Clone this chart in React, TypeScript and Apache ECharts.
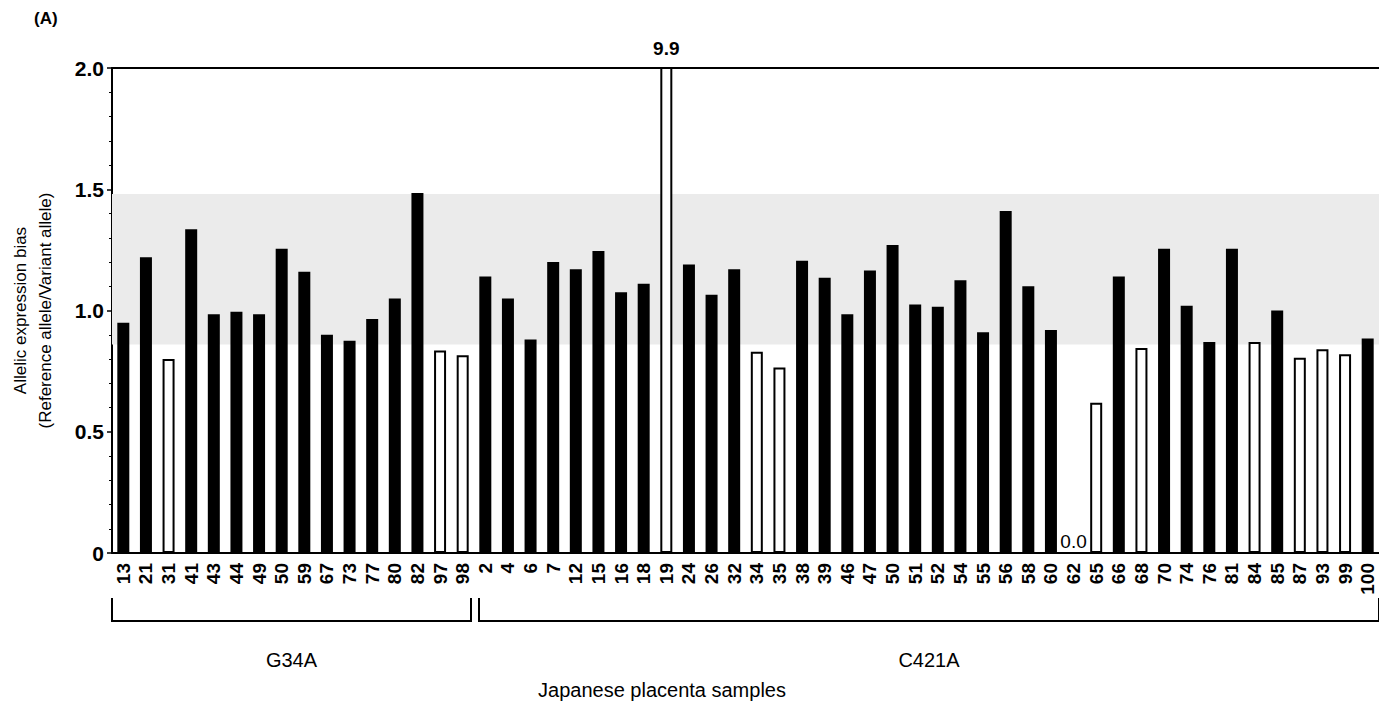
import React, { useEffect, useRef } from "react";
import * as echarts from "echarts";

// ---- Data ----
const g34aSamples = ["13", "21", "31", "41", "43", "44", "49", "50", "59", "67", "73", "77", "80", "82", "97", "98"];
const g34aValues = [0.95, 1.22, 0.8, 1.335, 0.985, 0.995, 0.985, 1.255, 1.16, 0.9, 0.875, 0.965, 1.05, 1.485, 0.835, 0.815];
const g34aOutliers = ["31", "97", "98"];

const c421aSamples = [
  "2", "4", "6", "7", "12", "15", "16", "18", "19", "24", "26", "32", "34", "35", "38", "39", "46", "47", "50", "51",
  "52", "54", "55", "56", "58", "60", "62", "65", "66", "68", "70", "74", "76", "81", "84", "85", "87", "93", "99", "100",
];
const c421aValues = [
  1.14, 1.05, 0.88, 1.2, 1.17, 1.245, 1.075, 1.11, 9.9, 1.19, 1.065, 1.17, 0.83, 0.765, 1.205, 1.135, 0.985, 1.165, 1.27, 1.025,
  1.015, 1.125, 0.91, 1.41, 1.1, 0.92, 0.0, 0.62, 1.14, 0.845, 1.255, 1.02, 0.87, 1.255, 0.87, 1.0, 0.805, 0.84, 0.82, 0.885,
];
const c421aOutliers = ["19", "34", "35", "62", "65", "68", "84", "87", "93", "99"];

const groupNames = ["G34A", "C421A"];
const normalRange = [0.86, 1.48];
const yTicks = [0, 0.5, 1.0, 1.5, 2.0];

const FONT = "'Liberation Sans', Arial, Helvetica, sans-serif";

export default function App() {
  const ref = useRef<HTMLDivElement>(null);

  useEffect(() => {
    if (!ref.current) return;
    const chart = echarts.init(ref.current, undefined, { renderer: "svg" });

    const categories = [...g34aSamples, ...c421aSamples];
    const values = [...g34aValues, ...c421aValues];
    const outlierFlags = [
      ...g34aSamples.map((s) => g34aOutliers.includes(s)),
      ...c421aSamples.map((s) => c421aOutliers.includes(s)),
    ];
    const yMin = yTicks[0];
    const yMax = yTicks[yTicks.length - 1];

    const data = values.map((v, i) => ({
      value: v,
      itemStyle: outlierFlags[i]
        ? { color: "#ffffff", borderColor: "#000000", borderWidth: 2 }
        : { color: "#000000", borderColor: "#000000", borderWidth: 0 },
      label: {
        show: v > yMax || v === 0,
        position: "top",
        distance: v === 0 ? 1 : 9,
        formatter: (p: any) => Number(p.value).toFixed(1),
        fontFamily: FONT,
        fontSize: 19,
        fontWeight: v > yMax ? "bold" : "normal",
        color: "#000",
      },
    }));

    const gridLeft = 110;
    const gridTop = 68;
    const gridBottomPx = 553;

    chart.setOption({
      animation: false,
      backgroundColor: "#ffffff",
      grid: {
        left: gridLeft,
        right: -4,
        top: gridTop,
        height: gridBottomPx - gridTop,
        show: false,
      },
      xAxis: [
        {
          type: "category",
          data: categories,
          axisLine: { show: true, lineStyle: { color: "#000", width: 2 } },
          axisTick: { show: false },
          axisLabel: {
            interval: 0,
            rotate: 90,
            margin: 10,
            fontFamily: FONT,
            fontSize: 19,
            fontWeight: "bold",
            color: "#000",
          },
          splitLine: { show: false },
        },
        {
          type: "category",
          data: categories,
          position: "top",
          axisLine: { show: true, lineStyle: { color: "#000", width: 2 } },
          axisTick: { show: false },
          axisLabel: { show: false },
          splitLine: { show: false },
        },
      ],
      yAxis: {
        type: "value",
        min: yMin,
        max: yMax,
        interval: 0.5,
        name: "Allelic expression bias\n(Reference allele/Variant allele)",
        nameLocation: "middle",
        nameRotate: 90,
        nameGap: 54,
        nameTextStyle: { fontFamily: FONT, fontSize: 17, color: "#000", lineHeight: 25 },
        axisLine: { show: true, lineStyle: { color: "#000", width: 2 } },
        axisTick: { show: true, inside: false, length: 5, lineStyle: { color: "#000", width: 1.5 } },
        minorTick: { show: true, splitNumber: 5, length: 3, lineStyle: { color: "#000", width: 1 } },
        axisLabel: {
          margin: 8,
          fontFamily: FONT,
          fontSize: 21,
          fontWeight: "bold",
          color: "#000",
          formatter: (v: number) => (v === 0 ? "0" : v.toFixed(1)),
        },
        splitLine: { show: false },
      },
      series: [
        {
          type: "bar",
          data,
          barWidth: 12,
          clip: true,
          markArea: {
            silent: true,
            itemStyle: { color: "#ebebeb" },
            data: [[{ yAxis: normalRange[0] }, { yAxis: normalRange[1] }]],
          },
        },
      ],
    });

    // Bracket annotations derived from category positions
    const xAt = (i: number) => chart.convertToPixel({ xAxisIndex: 0 }, i) as number;
    const w = xAt(1) - xAt(0);
    const n1 = g34aSamples.length;
    const nAll = categories.length;
    const spans = [
      [xAt(0) - w / 2, xAt(n1 - 1) + w / 2 - 3],
      [xAt(n1) - w / 2 + 5, xAt(nAll - 1) + w / 2],
    ];
    const bTop = gridBottomPx + 45;
    const bBot = gridBottomPx + 68;

    const graphics: any[] = [
      {
        type: "text",
        left: 34,
        top: 10,
        style: { text: "(A)", font: `bold 17px ${FONT}`, fill: "#000" },
      },
      {
        type: "text",
        x: 662,
        y: 690,
        style: { text: "Japanese placenta samples", font: `20px ${FONT}`, fill: "#000", align: "center", verticalAlign: "middle" },
      },
    ];
    spans.forEach(([a, b], gi) => {
      graphics.push({
        type: "polyline",
        shape: { points: [[a, bTop], [a, bBot], [b, bBot], [b, bTop]] },
        style: { stroke: "#000", lineWidth: 2, fill: null },
      });
      graphics.push({
        type: "text",
        x: (a + Math.min(b, 1379)) / 2,
        y: 660,
        style: { text: groupNames[gi], font: `20px ${FONT}`, fill: "#000", align: "center", verticalAlign: "middle" },
      });
    });
    chart.setOption({ graphic: graphics });

    return () => chart.dispose();
  }, []);

  return (
    <div
      ref={ref}
      style={{ position: "fixed", left: 0, top: 0, width: 1379, height: 704, background: "#fff" }}
    />
  );
}
